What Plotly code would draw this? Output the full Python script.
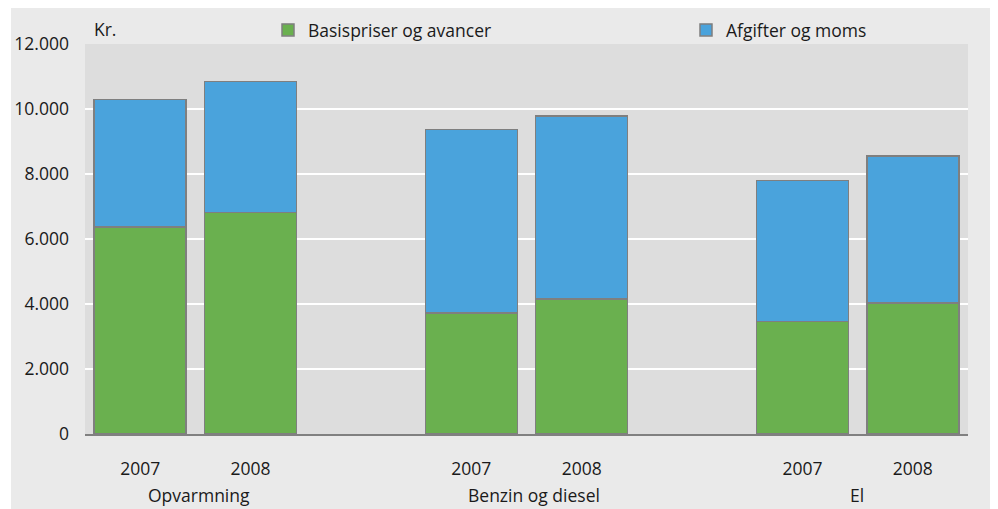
import plotly.graph_objects as go

# --- data ---
x_pos = [0, 1, 3, 4, 6, 7]
tick_labels = ["2007", "2008", "2007", "2008", "2007", "2008"]
groups = ["Opvarmning", "Benzin og diesel", "El"]
series_names = ["Basispriser og avancer", "Afgifter og moms"]
basis = [6370, 6820, 3720, 4155, 3465, 4030]
afgifter = [3925, 4030, 5650, 5630, 4340, 4525]
y_ticks = [0, 2000, 4000, 6000, 8000, 10000, 12000]

GREEN = "#6AB04F"
BLUE = "#4AA3DC"
OUTLINE = "#7f7f7f"
PAPER = "#eaeaea"
PLOTBG = "#dddddd"
FONT = "Open Sans"
TXT = "#1a1a1a"
FS = 17.5

OFF = 8  # page body margin
W, H = 990, 501
L, R, T, B = 77, 30, 36, 75
pw, ph = W - L - R, H - T - B

def px(xs):
    # screen x -> paper x
    return (xs - OFF - L) / pw

def py(ys):
    # screen y -> paper y
    return (H - B - (ys - OFF)) / ph

fig = go.Figure()
fig.add_trace(go.Bar(x=x_pos, y=basis, name=series_names[0],
                     marker=dict(color=GREEN, line=dict(color=OUTLINE, width=1.5)), legend="legend"))
fig.add_trace(go.Bar(x=x_pos, y=afgifter, name=series_names[1],
                     marker=dict(color=BLUE, line=dict(color=OUTLINE, width=1.5)), legend="legend2"))

shapes = [
    # thin white strip at the left of the grey panel
    dict(type="rect", xref="paper", yref="paper", x0=px(0), x1=px(11), y0=-0.3, y1=1.3,
         fillcolor="white", line=dict(width=0), layer="below"),
    # legend band covering the top gridline
    dict(type="rect", xref="paper", yref="paper", x0=px(183), x1=1.003, y0=1.0, y1=1.2,
         fillcolor=PAPER, line=dict(width=0), layer="above"),
    dict(type="rect", xref="paper", yref="paper", x0=px(183), x1=1.0, y0=py(45.5), y1=1.0,
         fillcolor=PLOTBG, line=dict(width=0), layer="above"),
]

annotations = [
    dict(text="Kr.", xref="paper", yref="paper", x=px(92), y=py(29), xanchor="left", yanchor="middle",
         showarrow=False, font=dict(family=FONT, size=FS, color=TXT)),
    dict(text=groups[0], xref="paper", yref="paper", x=px(199), y=py(509), xanchor="center", yanchor="bottom",
         showarrow=False, font=dict(family=FONT, size=FS, color=TXT)),
    dict(text=groups[1], xref="paper", yref="paper", x=px(534), y=py(509), xanchor="center", yanchor="bottom",
         showarrow=False, font=dict(family=FONT, size=FS, color=TXT)),
    dict(text=groups[2], xref="paper", yref="paper", x=px(857), y=py(509), xanchor="center", yanchor="bottom",
         showarrow=False, font=dict(family=FONT, size=FS, color=TXT)),
]

fig.update_layout(
    width=W, height=H,
    margin=dict(l=L, r=R, t=T, b=B, pad=0, autoexpand=False),
    paper_bgcolor=PAPER, plot_bgcolor=PLOTBG,
    barmode="stack", bargap=0.167,
    separators=",.",
    font=dict(family=FONT, size=FS, color=TXT),
    showlegend=True,
    legend=dict(x=px(268), y=py(30), xanchor="left", yanchor="middle", orientation="h",
                bgcolor="rgba(0,0,0,0)", font=dict(family=FONT, size=FS, color=TXT)),
    legend2=dict(x=px(686), y=py(30), xanchor="left", yanchor="middle", orientation="h",
                 bgcolor="rgba(0,0,0,0)", font=dict(family=FONT, size=FS, color=TXT)),
    xaxis=dict(range=[-0.5, 7.5], tickvals=x_pos, ticktext=tick_labels, showgrid=False, zeroline=False,
               showline=True, linecolor="#808080", linewidth=1.5, ticks="", ticklabelstandoff=18,
               automargin=False,
               tickfont=dict(family=FONT, size=FS, color=TXT), fixedrange=True),
    yaxis=dict(range=[0, 12000], tickvals=y_ticks, tickformat=",d", showgrid=True, gridcolor="white", gridwidth=2,
               zeroline=False, showline=False, ticks="", ticklabelstandoff=15, automargin=False,
               tickfont=dict(family=FONT, size=FS, color=TXT), fixedrange=True),
    shapes=shapes,
    annotations=annotations,
)

fig.write_html("out.html")
